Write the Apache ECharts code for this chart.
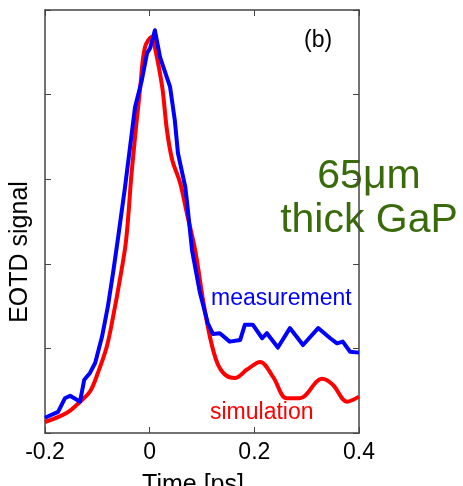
<!DOCTYPE html>
<html>
<head>
<meta charset="utf-8">
<script src="https://cdn.jsdelivr.net/npm/echarts@6/dist/echarts.min.js"></script>
<style>
  html, body { margin: 0; padding: 0; background: #fff; }
  #chart { width: 463px; height: 486px; }
</style>
</head>
<body>
<div id="chart"></div>
<script>
  // time axis in ps, signal in arbitrary units (0..5, unlabeled)
  const xTicks = [-0.2, 0, 0.2, 0.4]

  const measTime = [-0.2, -0.175, -0.162, -0.152, -0.133, -0.125, -0.114, -0.104, -0.091, -0.080,
    -0.070, -0.061, -0.047, -0.028, -0.015, -0.005, 0.001, 0.010, 0.020, 0.039,
    0.048, 0.054, 0.068, 0.071, 0.081, 0.096, 0.111, 0.121, 0.134, 0.153,
    0.173, 0.182, 0.197, 0.215, 0.224, 0.245, 0.268, 0.293, 0.322, 0.345,
    0.358, 0.369, 0.383, 0.4]
  const measSignal = [0.18, 0.25, 0.41, 0.44, 0.37, 0.63, 0.71, 0.83, 1.14, 1.49,
    1.89, 2.28, 2.91, 3.85, 4.17, 4.49, 4.55, 4.76, 4.44, 4.09,
    3.70, 3.31, 2.91, 2.75, 2.16, 1.66, 1.30, 1.17, 1.18, 1.08,
    1.10, 1.28, 1.28, 1.12, 1.18, 1.01, 1.24, 1.04, 1.24, 1.12,
    1.06, 1.08, 0.96, 0.95]

  const simTime = [-0.2, -0.158, -0.133, -0.114, -0.099, -0.082, -0.070, -0.057, -0.045, -0.034,
    -0.018, -0.009, 0.004, 0.010, 0.024, 0.033, 0.043, 0.058, 0.071, 0.087,
    0.102, 0.115, 0.129, 0.144, 0.163, 0.186, 0.211, 0.236, 0.262, 0.287,
    0.329, 0.350, 0.377, 0.4]
  const simSignal = [0.13, 0.24, 0.37, 0.49, 0.71, 1.02, 1.37, 1.81, 2.28, 3.11,
    4.09, 4.56, 4.68, 4.56, 4.09, 3.58, 3.23, 2.96, 2.60, 2.16,
    1.57, 1.14, 0.83, 0.69, 0.65, 0.75, 0.84, 0.66, 0.41, 0.41,
    0.64, 0.57, 0.37, 0.43]

  const zip = (xs, ys) => xs.map((x, i) => [x, ys[i]])

  const font = 'Liberation Sans, Arial, sans-serif'
  const axisColor = '#444'

  let chart = echarts.init(document.getElementById('chart'))

  // frame axis (top / right), no labels
  const frameAxis = (extra) => Object.assign({
    type: 'value',
    axisLine: { show: true, onZero: false, lineStyle: { color: axisColor, width: 1.5 } },
    axisTick: { show: true, inside: true, length: 6, lineStyle: { color: axisColor } },
    axisLabel: { show: false },
    splitLine: { show: false }
  }, extra)

  let option = {
    animation: false,
    grid: { left: 45, top: 10, right: 104, bottom: 53, containLabel: false, outerBoundsMode: 'none' },
    xAxis: [
      {
        type: 'value', min: -0.2, max: 0.4, interval: 0.2,
        axisLine: { onZero: false, lineStyle: { color: axisColor, width: 1.5 } },
        axisTick: { inside: true, length: 6, lineStyle: { color: axisColor } },
        axisLabel: {
          fontFamily: font, fontSize: 23, color: '#000', margin: 8,
          formatter: v => xTicks.indexOf(+v.toFixed(1)) >= 0 ? String(+v.toFixed(1)) : ''
        },
        splitLine: { show: false }
      },
      frameAxis({ position: 'top', min: -0.2, max: 0.4, interval: 0.2 })
    ],
    yAxis: [
      frameAxis({ position: 'left', min: 0, max: 5, interval: 1 }),
      frameAxis({ position: 'right', min: 0, max: 5, interval: 1 })
    ],
    series: [
      {
        name: 'simulation', type: 'line', data: zip(simTime, simSignal),
        smooth: 0.35, showSymbol: false, symbol: 'none',
        lineStyle: { color: '#ff0000', width: 4 }, z: 2
      },
      {
        name: 'measurement', type: 'line', data: zip(measTime, measSignal),
        smooth: false, showSymbol: false, symbol: 'none',
        lineStyle: { color: '#0000ff', width: 4, join: 'round' }, z: 3
      }
    ],
    graphic: [
      { type: 'text', left: 304, top: 29, style: { text: '(b)', font: '23px ' + font, fill: '#000' } },
      { type: 'text', left: 211, top: 287, style: { text: 'measurement', font: '23px ' + font, fill: '#0000ff' } },
      { type: 'text', left: 210, top: 401, style: { text: 'simulation', font: '23px ' + font, fill: '#ff0000' } },
      {
        type: 'text', x: 369, y: 155,
        style: {
          text: '65\u03bcm\nthick GaP', font: '41px ' + font, fill: '#3a6b0b',
          align: 'center', verticalAlign: 'top', lineHeight: 44
        }
      },
      {
        type: 'text', x: 20, y: 252, rotation: Math.PI / 2,
        style: { text: 'EOTD signal', font: '25px ' + font, fill: '#000', align: 'center', verticalAlign: 'middle' }
      },
      {
        type: 'text', x: 193, y: 473,
        style: { text: 'Time [ps]', font: '25px ' + font, fill: '#000', align: 'center', verticalAlign: 'top' }
      }
    ]
  }

  option && chart.setOption(option)
</script>
</body>
</html>
